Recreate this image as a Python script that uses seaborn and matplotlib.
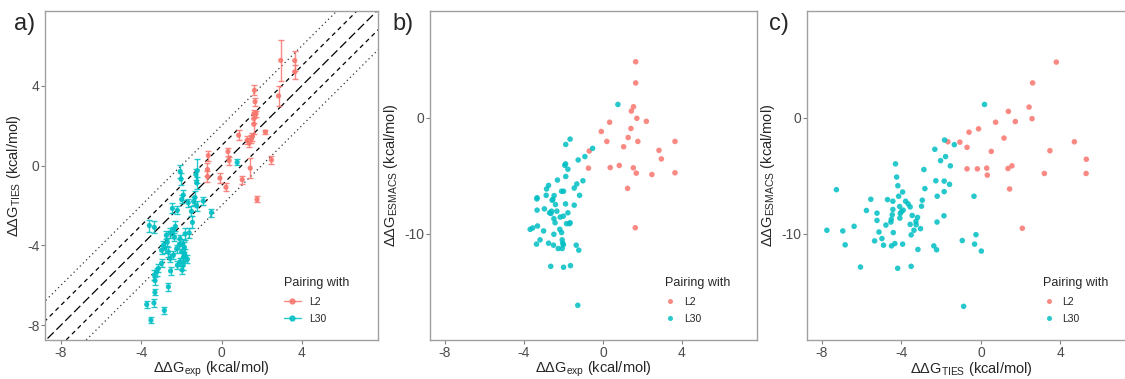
import numpy as np
import pandas as pd
import matplotlib
matplotlib.use('Agg')
import matplotlib.pyplot as plt
from matplotlib.lines import Line2D
import seaborn as sns

# --- Panel a: exp vs TIES (with error bars) ---
a_l2_exp = [2.95, 3.65, 3.65, 1.64, 2.84, 1.67, 1.62, 1.72, 1.61, 1.61, 2.19, 0.85, 1.28, 1.49,
            1.38, 1.54, -0.66, 0.32, 0.38, 2.49, -0.70, -0.70, -0.08, 1.03, 1.43, 0.22, 1.77]
a_l2_ties = [5.27, 5.26, 4.70, 3.77, 3.49, 3.20, 2.60, 2.60, 2.35, 2.07, 1.68, 1.52, 1.27, 1.35,
             1.12, 1.45, 0.50, 0.70, 0.25, 0.28, -0.20, -0.55, -0.63, -0.71, -0.13, -1.09, -1.70]
a_l2_err = [1.03, 0.50, 0.35, 0.25, 0.50, 0.20, 0.20, 0.15, 0.20, 0.50, 0.10, 0.25, 0.20, 0.20,
            0.20, 0.20, 0.25, 0.20, 0.20, 0.20, 0.35, 0.30, 0.25, 0.20, 0.50, 0.20, 0.15]

a_l30_exp = [0.78, -2.06, -1.21, -2.02, -1.28, -1.24, -1.91, -1.99, -1.33, -1.39, -1.66, -2.45, -2.20,
             -1.24, -0.91, -0.50, -1.50, -1.45, -3.60, -3.35, -2.30, -2.57, -2.40, -1.82, -1.61, -2.07,
             -1.94, -2.70, -2.82, -2.99, -2.65, -2.24, -1.99, -1.82, -2.57, -2.40, -2.07, -1.91, -1.97,
             -2.99, -3.15, -3.35, -3.23, -2.54, -3.32, -2.65, -3.32, -3.73, -3.37, -2.85, -3.52,
             -2.10, -1.85, -2.90, -2.35, -1.70, -2.20, -1.90, -2.75]
a_l30_ties = [0.16, -0.30, -0.26, -0.68, -0.45, -0.87, -1.48, -1.70, -1.60, -1.80, -1.86, -2.15, -2.25,
              -2.03, -1.78, -2.36, -2.30, -2.85, -3.01, -3.10, -3.05, -3.38, -3.26, -3.43, -3.38, -3.67,
              -3.92, -3.84, -4.14, -4.25, -4.33, -4.17, -4.33, -4.50, -4.66, -4.50, -4.83, -4.99, -5.24,
              -4.91, -5.16, -5.49, -5.32, -5.29, -5.77, -6.08, -6.36, -6.97, -6.89, -7.27, -7.76,
              -3.95, -4.10, -4.00, -3.60, -4.70, -5.00, -4.60, -3.50]
a_l30_err = [0.15, 0.35, 0.60, 0.30, 0.30, 0.30, 0.25, 0.20, 0.30, 0.20, 0.20, 0.25, 0.20,
             0.25, 0.20, 0.20, 0.25, 0.30, 0.30, 0.30, 0.25, 0.25, 0.20, 0.30, 0.25, 0.20,
             0.25, 0.20, 0.25, 0.20, 0.25, 0.20, 0.30, 0.30, 0.20, 0.20, 0.20, 0.25, 0.20,
             0.20, 0.20, 0.25, 0.20, 0.20, 0.20, 0.20, 0.15, 0.20, 0.20, 0.20, 0.15,
             0.25, 0.25, 0.20, 0.20, 0.20, 0.20, 0.25, 0.20]

# --- Panel b: exp vs ESMACS ---
b_l2_exp = [1.66, 1.66, 1.55, 1.44, 1.72, 2.20, 0.34, -0.08, 1.42, 0.20, 1.28, 1.77, 3.65,
            1.05, -0.69, 2.84, 2.96, -0.73, 0.37, 0.83, 1.54, 1.69, 2.48, 3.65, 1.25, 1.64]
b_l2_esmacs = [4.86, 3.03, 0.97, 0.60, -0.03, -0.29, -0.37, -1.17, -0.91, -2.03, -1.69, -2.03, -2.03,
               -2.49, -2.86, -2.80, -3.54, -4.34, -4.29, -4.11, -4.31, -4.77, -4.89, -4.74, -6.09, -9.49]

b_l30_exp = [0.76, -0.52, -0.91, -1.25, -1.66, -1.88, -1.89, -1.93, -1.77, -1.88, -1.01, -1.32, -2.30,
             -2.75, -2.85, -1.45, -1.99, -2.09, -1.18, -3.34, -3.33, -2.87, -2.47, -2.57, -2.53, -3.33,
             -2.96, -2.40, -1.89, -1.45, -2.70, -2.60, -2.63, -2.33, -1.77, -2.16, -2.48, -2.42, -2.00,
             -1.66, -1.84, -1.69, -3.68, -3.55, -3.31, -3.00, -2.18, -2.09, -2.48, -3.18, -3.36, -2.75,
             -2.50, -2.26, -2.06, -2.06, -2.03, -2.00, -1.35, -1.22, -2.64, -1.99, -1.64, -1.27]
b_l30_esmacs = [1.17, -2.63, -3.34, -3.63, -1.83, -2.29, -3.97, -4.09, -4.43, -5.06, -5.43, -5.71, -5.37,
                -5.83, -6.14, -6.06, -6.34, -6.34, -6.69, -7.00, -6.90, -6.69, -6.71, -7.11, -7.05, -7.97,
                -7.86, -7.49, -7.43, -7.54, -8.20, -8.06, -8.26, -8.06, -8.20, -8.57, -8.71, -9.06, -8.49,
                -9.06, -9.14, -9.14, -9.63, -9.51, -9.34, -9.77, -9.63, -9.91, -10.06, -10.54, -10.91, -10.83,
                -11.00, -11.29, -11.29, -10.54, -10.83, -10.97, -11.00, -11.43, -12.83, -12.91, -12.77, -16.20]

# --- Panel c: TIES vs ESMACS ---
c_l2_ties = [3.79, 2.60, 2.42, 1.38, 2.57, 1.73, 0.74, -0.12, -0.60, 1.16, -1.06, -1.66, 4.70, -0.70,
             0.52, 3.47, 5.30, -0.70, -0.18, 0.29, 1.36, 1.56, 0.32, 3.19, 5.29, 1.44, 2.08]
c_l2_esmacs = [4.83, 3.03, 0.94, 0.57, -0.06, -0.31, -0.37, -0.94, -1.23, -1.74, -2.09, -2.06, -2.06, -2.54,
               -2.89, -2.83, -3.57, -4.40, -4.40, -4.34, -4.37, -4.14, -4.94, -4.80, -4.80, -6.14, -9.54]

c_l30_ties = [0.18, -1.83, -1.34, -2.32, -1.78, -2.03, -1.54, -4.30, -2.87, -4.24, -2.27, -1.85, -1.58,
              -4.18, -2.82, -3.94, -1.85, -7.27, -2.20, -0.35, -4.14, -5.54, -4.70, -4.43, -3.79, -2.95,
              -3.66, -3.56, -4.09, -2.99, -5.76, -4.43, -3.91, -4.00, -4.06, -5.23, -4.46, -3.46, -3.19,
              -1.86, -4.08, -4.51, -5.23, -3.27, -4.53, -2.21, -4.78, -3.56, -3.26, -6.38, -4.41, -3.04,
              -3.37, -7.75, -6.95, -5.13, -3.51, -5.35, -4.98, -0.25, -0.94, -6.83, -4.90, -4.50, -4.33,
              -3.94, -2.37, -2.23, -3.17, -0.32, 0.02, -6.06, -4.19, -3.51, -0.87]
c_l30_esmacs = [1.17, -1.91, -2.31, -2.71, -3.34, -3.69, -4.14, -3.97, -4.46, -5.11, -5.43, -5.46, -5.74,
                -5.86, -6.11, -6.40, -6.37, -6.20, -6.77, -6.77, -6.77, -7.03, -7.06, -7.20, -7.20, -7.11,
                -7.43, -7.69, -7.66, -7.63, -8.00, -7.91, -7.97, -8.11, -8.26, -8.23, -8.37, -8.43, -8.60,
                -8.46, -8.66, -8.77, -8.86, -8.94, -9.00, -9.00, -9.26, -9.20, -9.23, -9.37, -9.91, -9.57,
                -9.71, -9.71, -9.77, -9.86, -10.11, -10.63, -10.43, -10.09, -10.60, -10.97, -11.00, -11.06, -10.86,
                -10.91, -11.06, -11.40, -11.37, -10.91, -11.51, -12.89, -13.00, -12.83, -16.29]

groups = ['L2', 'L30']
palette = {'L2': '#F8766D', 'L30': '#00BFC4'}


def make_df(x_l2, y_l2, x_l30, y_l30, err_l2=None, err_l30=None):
    d1 = pd.DataFrame({'x': x_l2, 'y': y_l2, 'pairing': 'L2'})
    d2 = pd.DataFrame({'x': x_l30, 'y': y_l30, 'pairing': 'L30'})
    if err_l2 is not None:
        d1['err'] = err_l2
        d2['err'] = err_l30
    return pd.concat([d1, d2], ignore_index=True)


df_a = make_df(a_l2_exp, a_l2_ties, a_l30_exp, a_l30_ties, a_l2_err, a_l30_err)
df_b = make_df(b_l2_exp, b_l2_esmacs, b_l30_exp, b_l30_esmacs)
df_c = make_df(c_l2_ties, c_l2_esmacs, c_l30_ties, c_l30_esmacs)

# --- Style ---
sns.set_style('white')
plt.rcParams['font.family'] = ['Liberation Sans', 'DejaVu Sans']
plt.rcParams['mathtext.fontset'] = 'custom'
plt.rcParams['mathtext.rm'] = 'Liberation Sans'
plt.rcParams['axes.unicode_minus'] = False

W, H = 1125, 379
fig = plt.figure(figsize=(W / 100, H / 100), dpi=100)


def px_axes(left, top, width, height):
    return fig.add_axes([left / W, (H - top - height) / H, width / W, height / H])


ax_a = px_axes(45, 11, 333, 329)
ax_b = px_axes(430, 11, 327, 329)
ax_c = px_axes(807, 11, 329, 329)

lbl_exp = 'ΔΔG$_{\\mathregular{exp}}$ (kcal/mol)'
lbl_ties = 'ΔΔG$_{\\mathregular{TIES}}$ (kcal/mol)'
lbl_esm = 'ΔΔG$_{\\mathregular{ESMACS}}$ (kcal/mol)'


def style_axes(ax, xlabel, ylabel, yticks):
    for sp in ax.spines.values():
        sp.set_color('#a0a0a0')
        sp.set_linewidth(1.0)
    ax.set_xticks([-8, -4, 0, 4])
    ax.set_yticks(yticks)
    ax.tick_params(bottom=True, left=True, direction='out', length=3, width=0.8,
                   color='#808080', labelcolor='#4d4d4d', labelsize=10, pad=1)
    ax.set_xlabel(xlabel, fontsize=10.5, va='center')
    ax.set_ylabel(ylabel, fontsize=10.5, labelpad=3)
    # x label centred ~29 px below the frame
    h_px = ax.get_position().height * H
    ax.xaxis.set_label_coords(0.5, -29 / h_px)


# --- Panel a ---
lims = np.array([-10, 10])
ax_a.plot(lims, lims, color='black', lw=0.9, ls=(0, (7, 3)), zorder=1)
for off in (-1, 1):
    ax_a.plot(lims, lims + off, color='black', lw=0.9, ls=(0, (3.5, 3)), zorder=1)
for off in (-2, 2):
    ax_a.plot(lims, lims + off, color='#333333', lw=0.9, ls=(0, (1, 2.5)), zorder=1)

for g in groups:
    sub = df_a[df_a['pairing'] == g]
    ax_a.errorbar(sub['x'], sub['y'], yerr=sub['err'], fmt='none', ecolor=palette[g],
                  elinewidth=1.0, capsize=2.2, capthick=1.0, alpha=0.85, zorder=2)
sns.scatterplot(data=df_a, x='x', y='y', hue='pairing', palette=palette, s=14,
                edgecolor='none', alpha=0.9, legend=False, ax=ax_a, zorder=3)
ax_a.set_xlim(-8.8, 7.8)
ax_a.set_ylim(-8.75, 7.75)
style_axes(ax_a, lbl_exp, lbl_ties, [-8, -4, 0, 4])
handles = [Line2D([0], [0], color=palette[g], lw=1.0, marker='o', markersize=3.5, alpha=0.85)
           for g in groups]
ax_a.legend(handles, groups, title='Pairing with', loc='lower left', bbox_to_anchor=(0.69, 0.02),
            frameon=False, fontsize=7.5, title_fontsize=9, handlelength=1.6, alignment='left',
            labelspacing=0.7)

# --- Panels b and c ---
for ax, df, xl in ((ax_b, df_b, lbl_exp), (ax_c, df_c, lbl_ties)):
    sns.scatterplot(data=df, x='x', y='y', hue='pairing', palette=palette, s=16,
                    edgecolor='none', alpha=0.85, ax=ax)
    ax.set_xlim(-8.75, 7.8)
    ax.set_ylim(-19.2, 9.25)
    style_axes(ax, xl, lbl_esm, [-10, 0])
    ax.legend(title='Pairing with', loc='lower left', bbox_to_anchor=(0.69, 0.02),
              frameon=False, fontsize=7.5, title_fontsize=9, handlelength=1.0,
              alignment='left', labelspacing=0.7, markerscale=0.9)

# --- Panel letters ---
fig.text(14 / W, 1 - 24 / H, 'a)', fontsize=17, va='center', ha='left')
fig.text(392 / W, 1 - 24 / H, 'b)', fontsize=17, va='center', ha='left')
fig.text(769 / W, 1 - 24 / H, 'c)', fontsize=17, va='center', ha='left')

fig.savefig('out.png', dpi=100)
